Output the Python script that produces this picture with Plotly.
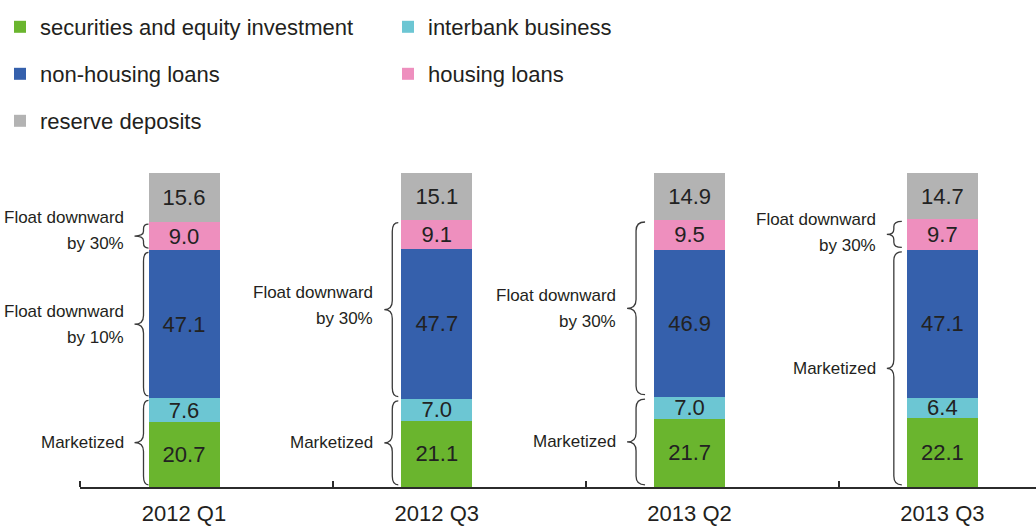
import plotly.graph_objects as go

# Composition of bank assets by quarter (%), stacked bottom to top
categories = ["2012 Q1", "2012 Q3", "2013 Q2", "2013 Q3"]
securities = [20.7, 21.1, 21.7, 22.1]
interbank = [7.6, 7.0, 7.0, 6.4]
non_housing = [47.1, 47.7, 46.9, 47.1]
housing = [9.0, 9.1, 9.5, 9.7]
reserve = [15.6, 15.1, 14.9, 14.7]

series_names = [
    "securities and equity investment",
    "interbank business",
    "non-housing loans",
    "housing loans",
    "reserve deposits",
]
series_values = [securities, interbank, non_housing, housing, reserve]
series_colors = ["#6ab52e", "#6cc6d3", "#3560ac", "#ee8fbe", "#b3b3b3"]

# Pricing regime brackets: (category index, lowest segment, highest segment, label)
brace_groups = [
    (0, 3, 3, "Float downward<br>by 30%"),
    (0, 2, 2, "Float downward<br>by 10%"),
    (0, 0, 1, "Marketized"),
    (1, 2, 3, "Float downward<br>by 30%"),
    (1, 0, 1, "Marketized"),
    (2, 2, 3, "Float downward<br>by 30%"),
    (2, 0, 1, "Marketized"),
    (3, 3, 3, "Float downward<br>by 30%"),
    (3, 0, 2, "Marketized"),
]
# upward nudge (px) of each bracket label relative to the bracket tip
label_lift = [6, 0, 0, 4, 0, 0, 0, 2, 0]

TEXT = "#231f20"
BASE_FONT = "Liberation Sans, Arial, sans-serif"
BAR_WIDTH = 0.281
x_pos = list(range(len(categories)))

# legend slot for each series: (legend id, left px, row centre px)
legend_slots = [("legend", 0, 27), ("legend2", 388, 27), ("legend3", 0, 74),
                ("legend4", 388, 74), ("legend5", 0, 121)]

W, H = 1036, 526

fig = go.Figure()
for name, vals, color, slot in zip(series_names, series_values, series_colors, legend_slots):
    fig.add_trace(go.Bar(
        x=x_pos, y=vals, name=name, width=BAR_WIDTH,
        marker=dict(color=color, line=dict(width=0)),
        text=vals, texttemplate="%{y:.1f}", textposition="inside",
        insidetextanchor="middle",
        textfont=dict(family=BASE_FONT, size=22, color="#222222"),
        legend=slot[0], hoverinfo="skip",
    ))

# horizontal pixel geometry of each bracket, per category: gap to bar, curl width, tip length
brace_gap = [0, 3, 9, 5]
brace_curl = [5, 6, 9, 8]
brace_tip = [9, 8, 9, 7]
LABEL_GAP = 9
LINE_STEP = 26
INSET = 0.7

for (ci, lo, hi, label), lift in zip(brace_groups, label_lift):
    y0 = sum(series_values[k][ci] for k in range(lo)) + INSET
    y1 = sum(series_values[k][ci] for k in range(hi + 1)) - INSET
    ym = (y0 + y1) / 2
    r = min(2.8, (y1 - y0) * 0.2)
    g, c, t = brace_gap[ci], brace_curl[ci], brace_tip[ci]
    xe, xv, xt = -g, -g - c, -g - c - t
    path = (f"M{xe},{y1} Q{xv},{y1} {xv},{y1 - r} L{xv},{ym + r} "
            f"Q{xv},{ym} {xt},{ym} Q{xv},{ym} {xv},{ym - r} "
            f"L{xv},{y0 + r} Q{xv},{y0} {xe},{y0}")
    left_edge = x_pos[ci] - BAR_WIDTH / 2
    fig.add_shape(type="path", path=path, xref="x", yref="y",
                  xsizemode="pixel", xanchor=left_edge,
                  line=dict(color="#3a3a3a", width=1.3))
    lines = label.split("<br>")
    n = len(lines)
    for k, line in enumerate(lines):
        fig.add_annotation(x=left_edge, y=ym, xref="x", yref="y",
                           text=line, showarrow=False, xanchor="right",
                           yanchor="middle", align="right",
                           xshift=xt - LABEL_GAP,
                           yshift=lift + ((n - 1) / 2 - k) * LINE_STEP,
                           font=dict(family=BASE_FONT, size=17, color=TEXT))

# category boundary ticks along the baseline
boundary_ticks = [i - 0.41 for i in x_pos]

layout_legends = {}
for slot in legend_slots:
    lid, px, py = slot
    layout_legends[lid] = dict(
        xref="container", yref="container", x=px / W, y=1 - py / H,
        xanchor="left", yanchor="middle", orientation="h",
        bgcolor="rgba(0,0,0,0)", borderwidth=0,
        font=dict(family=BASE_FONT, size=22, color=TEXT),
    )

fig.update_layout(
    width=W, height=H,
    margin=dict(l=80, r=0, t=173, b=39, autoexpand=False),
    barmode="stack",
    paper_bgcolor="white", plot_bgcolor="white",
    showlegend=True,
    uniformtext=dict(minsize=22, mode="show"),
    xaxis=dict(
        range=[-0.4115, 3.3705], tickvals=x_pos, ticktext=categories,
        ticks="", showgrid=False, zeroline=False,
        showline=True, linecolor="#2b2b2b", linewidth=1.5,
        tickfont=dict(family=BASE_FONT, size=22, color=TEXT),
        ticklabelstandoff=6, automargin=False,
        minor=dict(tickvals=boundary_ticks, ticks="inside", ticklen=6,
                   tickwidth=1.5, tickcolor="#2b2b2b", showgrid=False),
    ),
    yaxis=dict(range=[0, 100], visible=False, showgrid=False, zeroline=False),
    **layout_legends,
)

fig.write_html("out.html")
